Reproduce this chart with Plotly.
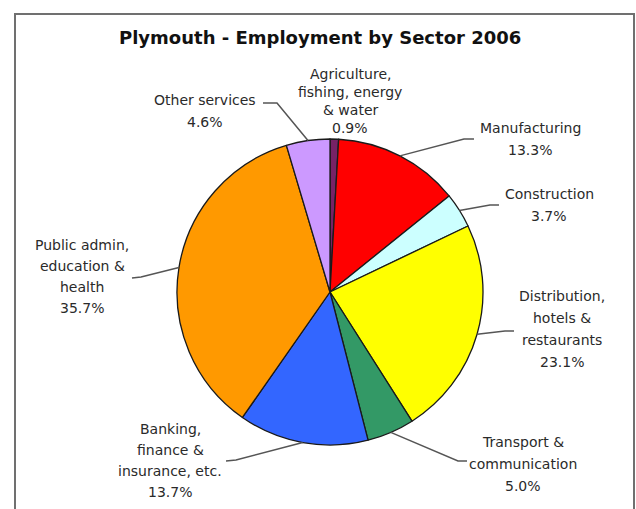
import math
import plotly.graph_objects as go

# ---- data ----
sectors = [
    "Agriculture, fishing, energy & water",
    "Manufacturing",
    "Construction",
    "Distribution, hotels & restaurants",
    "Transport & communication",
    "Banking, finance & insurance, etc.",
    "Public admin, education & health",
    "Other services",
]
shares = [0.9, 13.3, 3.7, 23.1, 5.0, 13.7, 35.7, 4.6]
label_lines = [
    ["Agriculture,", "fishing, energy", "& water"],
    ["Manufacturing"],
    ["Construction"],
    ["Distribution,", "hotels &", "restaurants"],
    ["Transport &", "communication"],
    ["Banking,", "finance &", "insurance, etc."],
    ["Public admin,", "education &", "health"],
    ["Other services"],
]
title_text = "Plymouth - Employment by Sector 2006"

# ---- style / layout ----
colors = ["#772266", "#FF0000", "#CCFFFF", "#FFFF00", "#339966", "#3366FF", "#FF9900", "#CC99FF"]
W, H = 636, 509
CX, CY, R = 330, 292, 153

# label centre x, first-line y, line spacing
label_pos = [
    (350, 74, 18),
    (530, 128, 22),
    (549, 194, 22),
    (562, 296, 22),
    (523, 442, 22),
    (170, 429, 21),
    (82, 245, 21),
    (205, 100, 22),
]
# leader line label-side points (knee, end) in px; None = no line
leaders = [
    None,
    [(464, 139), (474, 139)],
    [(490, 205), (499, 205)],
    [(505, 331), (514, 331)],
    [(458, 461), (467, 461)],
    [(236, 460), (226, 461)],
    [(141, 277), (132, 278)],
    [(277, 103), (263, 103)],
]


def px(x):
    return x / W


def py(y):
    return 1 - y / H


fig = go.Figure(
    go.Pie(
        labels=sectors,
        values=shares,
        sort=False,
        direction="clockwise",
        rotation=0,
        marker=dict(colors=colors, line=dict(color="#1a1a1a", width=1.3)),
        textinfo="none",
        hoverinfo="label+percent",
        domain=dict(x=[px(CX - R), px(CX + R)], y=[py(CY + R), py(CY - R)]),
        showlegend=False,
    )
)

shapes = [
    dict(type="rect", xref="paper", yref="paper",
         x0=px(15), x1=px(634), y0=py(14), y1=py(540),
         line=dict(color="#707070", width=2), fillcolor="rgba(0,0,0,0)", layer="below"),
]
annotations = [
    dict(text="<b>" + title_text + "</b>", x=px(320), y=py(38), xref="paper", yref="paper",
         xanchor="center", yanchor="middle", showarrow=False,
         font=dict(family="DejaVu Sans", size=18, color="#111111")),
]

total = sum(shares)
cum = 0.0
for i, v in enumerate(shares):
    mid = (cum + v / 2) / total * 2 * math.pi
    cum += v
    ex = CX + R * math.sin(mid)
    ey = CY - R * math.cos(mid)
    lines = label_lines[i] + [f"{v:.1f}%"]
    lx, ly, sp = label_pos[i]
    for k, t in enumerate(lines):
        annotations.append(dict(
            text=t, x=px(lx), y=py(ly + k * sp), xref="paper", yref="paper",
            xanchor="center", yanchor="middle", showarrow=False,
            font=dict(family="DejaVu Sans", size=14, color="#2a2a2a")))
    if leaders[i]:
        pts = [(ex, ey)] + leaders[i]
        path = "M " + " L ".join(f"{px(a):.5f},{py(b):.5f}" for a, b in pts)
        shapes.append(dict(type="path", xref="paper", yref="paper", path=path,
                           line=dict(color="#555555", width=1.5)))

fig.update_layout(
    width=W, height=H, autosize=False,
    margin=dict(l=0, r=0, t=0, b=0),
    paper_bgcolor="white", plot_bgcolor="white",
    shapes=shapes, annotations=annotations,
)

fig.write_html(
    "out.html",
    config={"displayModeBar": False},
    post_script="document.body.style.margin='0';document.body.style.overflow='hidden';",
)
